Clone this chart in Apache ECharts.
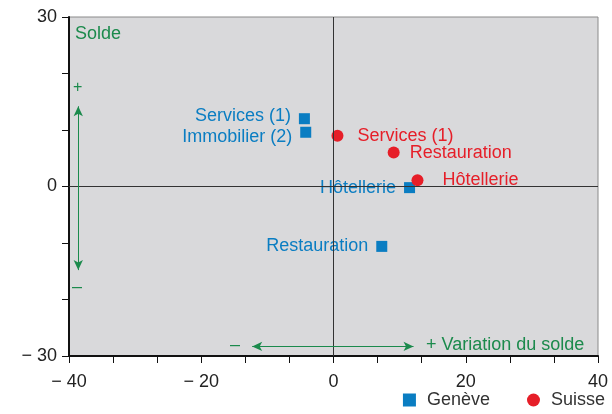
<!DOCTYPE html>
<html>
<head>
<meta charset="utf-8">
<script src="https://cdn.jsdelivr.net/npm/echarts@6/dist/echarts.min.js"></script>
<style>
  html, body { margin: 0; padding: 0; background: #fff; }
  #chart { width: 612px; height: 414px; }
</style>
</head>
<body>
<div id="chart"></div>
<script>
// données
const geneveNames = ['Services (1)', 'Immobilier (2)', 'Hôtellerie', 'Restauration']
const geneveX = [-4.4, -4.2, 11.5, 7.3]
const geneveY = [12.0, 9.6, -0.2, -10.6]
const geneveLabelShift = [-3, 5, 0, 0]

const suisseNames = ['Services (1)', 'Restauration', 'Hôtellerie']
const suisseX = [0.6, 9.1, 12.7]
const suisseY = [9.0, 6.0, 1.1]
const suisseLabelDist = [14, 10, 19]

const xTicks = [-40, -20, 0, 20, 40]
const yTicks = [-30, 0, 30]

const green = '#1b8a4c'
const blue = '#0a7dc2'
const red = '#e61e28'
const font = 'Liberation Sans, Arial, sans-serif'

function fmt(v) {
  return v < 0 ? '\u2212 ' + Math.abs(v) : String(v)
}

let chart = echarts.init(document.getElementById('chart'))

let option = {
  animation: false,
  textStyle: { fontFamily: font },
  grid: {
    left: 69, right: 14, top: 17, bottom: 58,
    show: true,
    backgroundColor: '#d9d9db',
    borderColor: '#8a8a8a',
    borderWidth: 1
  },
  legend: {
    right: 2,
    bottom: 0,
    itemWidth: 13,
    itemHeight: 13,
    itemGap: 37,
    textStyle: { fontSize: 18, color: '#333', padding: [0, 0, 0, 6] },
    data: [
      { name: 'Genève', icon: 'rect' },
      { name: 'Suisse', icon: 'circle' }
    ]
  },
  xAxis: {
    type: 'value',
    min: xTicks[0],
    max: xTicks[xTicks.length - 1],
    interval: 20,
    axisLine: { show: true, onZero: false, lineStyle: { color: '#111', width: 2 } },
    axisTick: { show: true, length: 7, lineStyle: { color: '#111' } },
    minorTick: { show: true, splitNumber: 3, length: 7, lineStyle: { color: '#111' } },
    splitLine: { show: false },
    axisLabel: { fontSize: 18, color: '#222', margin: 17, formatter: fmt }
  },
  yAxis: {
    type: 'value',
    min: yTicks[0],
    max: yTicks[yTicks.length - 1],
    interval: 30,
    axisLine: { show: true, onZero: false, lineStyle: { color: '#111', width: 2 } },
    axisTick: { show: true, length: 7, lineStyle: { color: '#111' } },
    minorTick: { show: true, splitNumber: 3, length: 7, lineStyle: { color: '#111' } },
    splitLine: { show: false },
    axisLabel: { fontSize: 18, color: '#222', margin: 12, formatter: fmt }
  },
  series: [
    {
      name: 'Genève',
      type: 'scatter',
      symbol: 'rect',
      symbolSize: 11,
      itemStyle: { color: blue, opacity: 1 },
      label: {
        show: true,
        position: 'left',
        distance: 8,
        color: blue,
        fontSize: 18,
        formatter: p => p.data.value[2]
      },
      data: geneveX.map((x, i) => ({
        value: [x, geneveY[i], geneveNames[i]],
        label: { offset: [0, geneveLabelShift[i]] }
      })),
      markLine: {
        silent: true,
        symbol: 'none',
        label: { show: false },
        lineStyle: { color: '#333', width: 1, type: 'solid' },
        data: [{ xAxis: 0 }, { yAxis: 0 }]
      },
      z: 3
    },
    {
      name: 'Suisse',
      type: 'scatter',
      symbol: 'circle',
      symbolSize: 12,
      itemStyle: { color: red, opacity: 1 },
      data: suisseX.map((x, i) => ({
        value: [x, suisseY[i], suisseNames[i]],
        label: { distance: suisseLabelDist[i] }
      })),
      label: {
        show: true,
        position: 'right',
        color: red,
        fontSize: 18,
        formatter: p => p.data.value[2]
      },
      markLine: {
        silent: true,
        symbol: ['arrow', 'arrow'],
        symbolSize: [7, 10],
        label: { show: false },
        lineStyle: { color: green, width: 1, type: 'solid' },
        data: [
          [{ coord: [-38.6, -14.8] }, { coord: [-38.6, 14.2] }],
          [{ coord: [-12.3, -28.3] }, { coord: [12.1, -28.3] }]
        ]
      },
      z: 4
    }
  ],
  graphic: [
    { type: 'text', left: 75, top: 25, style: { text: 'Solde', fill: green, fontSize: 18, fontFamily: font } },
    { type: 'text', left: 73, top: 80, style: { text: '+', fill: green, fontSize: 16, fontFamily: font } },
    { type: 'text', left: 72, top: 278, style: { text: '\u2013', fill: green, fontSize: 18, fontFamily: font } },
    { type: 'text', left: 230, top: 336, style: { text: '\u2013', fill: green, fontSize: 18, fontFamily: font } },
    { type: 'text', left: 426, top: 336, style: { text: '+ Variation du solde', fill: green, fontSize: 18, fontFamily: font } }
  ]
}

chart.setOption(option)
</script>
</body>
</html>
